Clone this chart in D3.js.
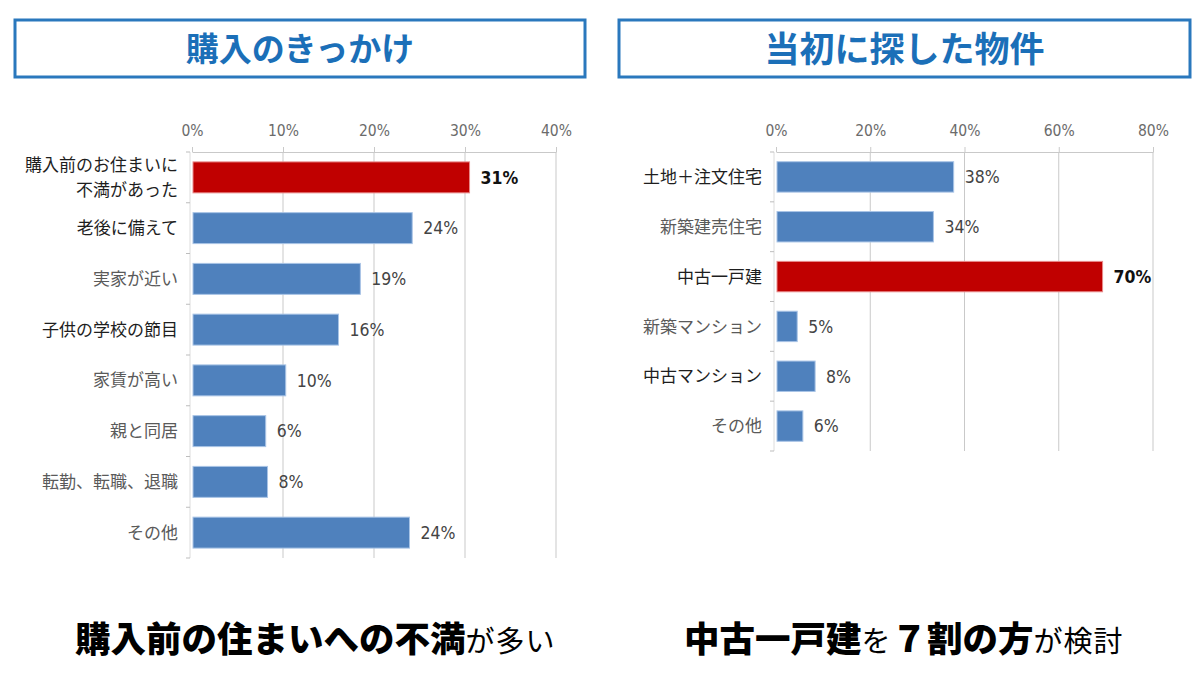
<!DOCTYPE html>
<html lang="ja">
<head>
<meta charset="utf-8">
<script src="https://cdn.jsdelivr.net/npm/d3@7"></script>
<style>
  html, body { margin: 0; padding: 0; background: #fff; }
  svg { display: block; font-family: "Noto Sans CJK JP", "Noto Sans", sans-serif; }
  .title { font-weight: 700; fill: #1b6fb8; }
  .frame { fill: #fff; stroke: #2a78bd; stroke-width: 3; }
  .grid line { stroke: #c9c9c9; stroke-width: 1; }
  .axis path, .axis line { stroke: #c9c9c9; }
  .axis text { fill: #6b6b6b; font-size: 15.5px; font-family: "DejaVu Sans Condensed", "Liberation Sans", sans-serif; }
  .cat { font-size: 17px; fill: #5a5a5a; }
  .cat.dark { fill: #1e1e1e; }
  .val { font-size: 17.5px; fill: #444; font-family: "DejaVu Sans Condensed", "Liberation Sans", sans-serif; }
  .val.hot { fill: #111; font-weight: 700; }
  .bottom { fill: #000; }
</style>
</head>
<body>
<svg id="chart" width="1200" height="680"></svg>
<script>
// 購入のきっかけ
const leftCategories = [
  "購入前のお住まいに\n不満があった",
  "老後に備えて",
  "実家が近い",
  "子供の学校の節目",
  "家賃が高い",
  "親と同居",
  "転勤、転職、退職",
  "その他",
];
const leftBars = [30.5, 24.2, 18.5, 16.1, 10.3, 8.1, 8.3, 23.9];
const leftLabels = ["31%", "24%", "19%", "16%", "10%", "6%", "8%", "24%"];
const leftTicks = [0, 10, 20, 30, 40];

// 当初に探した物件
const rightCategories = ["土地＋注文住宅", "新築建売住宅", "中古一戸建", "新築マンション", "中古マンション", "その他"];
const rightBars = [37.7, 33.4, 69.3, 4.5, 8.3, 5.7];
const rightLabels = ["38%", "34%", "70%", "5%", "8%", "6%"];
const rightTicks = [0, 20, 40, 60, 80];

const svg = d3.select("#chart");

function header(x, w, text, size) {
  svg.append("rect").attr("class", "frame").attr("x", x).attr("y", 20).attr("width", w).attr("height", 57);
  svg.append("text")
    .attr("class", "title")
    .attr("x", x + w / 2)
    .attr("y", 49)
    .attr("dy", "0.36em")
    .attr("text-anchor", "middle")
    .style("font-size", `${size}px`)
    .text(text);
}

function drawPanel({ categories, bars, labels, ticks, x0, x1, y0, y1, hot, dark }) {
  const g = svg.append("g");
  const x = d3.scaleLinear().domain([ticks[0], ticks[ticks.length - 1]]).range([x0, x1]);
  const y = d3.scaleBand().domain(categories).range([y0, y1]).paddingInner(0.39).paddingOuter(0.195);
  const step = y.step();

  g.append("g")
    .attr("class", "grid")
    .selectAll("line")
    .data(ticks.slice(1))
    .join("line")
    .attr("x1", (d) => x(d))
    .attr("x2", (d) => x(d))
    .attr("y1", y0)
    .attr("y2", y1);

  g.append("g")
    .attr("class", "axis")
    .attr("transform", `translate(0,${y0})`)
    .call(d3.axisTop(x).tickValues(ticks).tickSize(5).tickSizeOuter(0).tickPadding(11).tickFormat((d) => `${d}%`));

  // left axis line with little ticks between bands
  g.append("line")
    .attr("x1", x0 - 2).attr("x2", x0 - 2)
    .attr("y1", y0).attr("y2", y1)
    .attr("stroke", "#dcdcdc");
  g.append("g")
    .selectAll("line")
    .data(d3.range(categories.length + 1))
    .join("line")
    .attr("x1", x0 - 6)
    .attr("x2", x0 - 2)
    .attr("y1", (i) => y0 + i * step)
    .attr("y2", (i) => y0 + i * step)
    .attr("stroke", "#bdbdbd");

  g.append("g")
    .selectAll("rect")
    .data(categories)
    .join("rect")
    .attr("x", x(0) + 1)
    .attr("y", (d) => y(d))
    .attr("width", (d, i) => x(bars[i]) - x(0) - 1)
    .attr("height", y.bandwidth())
    .attr("fill", (d, i) => (i === hot ? "#c00000" : "#4f81bd"))
    .attr("stroke", (d, i) => (i === hot ? "#e88a8a" : "#a9c4e6"))
    .attr("stroke-width", 1);

  g.append("g")
    .selectAll("text")
    .data(categories)
    .join("text")
    .attr("class", (d, i) => (i === hot ? "val hot" : "val"))
    .attr("x", (d, i) => x(bars[i]) + 11)
    .attr("y", (d) => y(d) + y.bandwidth() / 2)
    .attr("dy", "0.36em")
    .text((d, i) => labels[i]);

  const cats = g.append("g")
    .selectAll("text")
    .data(categories)
    .join("text")
    .attr("class", (d, i) => (dark.includes(i) ? "cat dark" : "cat"))
    .attr("text-anchor", "end")
    .attr("x", x0 - 14)
    .attr("y", (d) => y(d) + y.bandwidth() / 2);

  cats.each(function (d) {
    const lines = d.split("\n");
    const t = d3.select(this);
    lines.forEach((line, k) => {
      t.append("tspan")
        .attr("x", x0 - 14)
        .attr("dy", k === 0 ? `${0.36 - (lines.length - 1) * 0.72}em` : "1.44em")
        .text(line);
    });
  });
}

header(15, 570, "購入のきっかけ", 33);
header(619, 571, "当初に探した物件", 35);

drawPanel({
  categories: leftCategories,
  bars: leftBars,
  labels: leftLabels,
  ticks: leftTicks,
  x0: 192, x1: 556, y0: 152, y1: 558,
  hot: 0,
  dark: [0, 1, 3],
});

drawPanel({
  categories: rightCategories,
  bars: rightBars,
  labels: rightLabels,
  ticks: rightTicks,
  x0: 776, x1: 1153, y0: 152, y1: 451,
  hot: 2,
  dark: [0, 2, 4],
});

function caption(x, parts) {
  const t = svg.append("text").attr("class", "bottom").attr("x", x).attr("y", 652);
  parts.forEach(([s, bold]) => {
    t.append("tspan")
      .style("font-size", bold ? "35.5px" : "29px")
      .style("font-weight", bold ? 900 : 400)
      .style("letter-spacing", bold ? "0px" : "1px")
      .text(s);
  });
}

caption(75, [["購入前の住まいへの不満", true], ["が多い", false]]);
caption(684, [["中古一戸建", true], ["を", false], ["７割の方", true], ["が検討", false]]);
</script>
</body>
</html>
